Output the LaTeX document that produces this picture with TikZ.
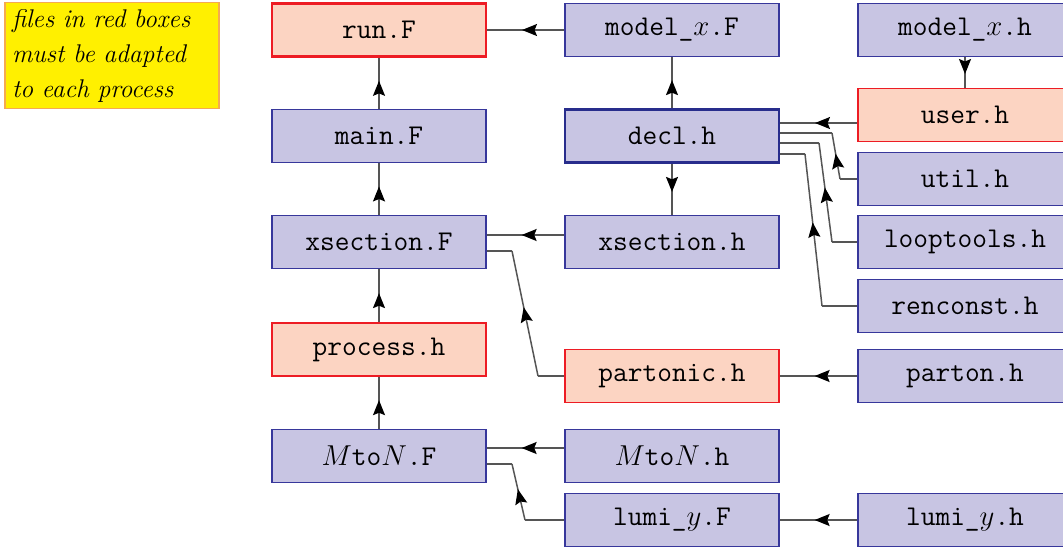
\documentclass[tikz,border=0pt]{standalone}
\usepackage{tikz}
\usetikzlibrary{arrows.meta, decorations.markings, positioning}
\definecolor{fileblue}{RGB}{200,197,227}
\definecolor{fileline}{RGB}{55,55,155}
\definecolor{declline}{RGB}{40,45,140}
\definecolor{adaptfill}{RGB}{252,212,194}
\definecolor{adaptline}{RGB}{237,28,36}
\definecolor{noteyellow}{RGB}{255,240,0}
\definecolor{noteline}{RGB}{245,170,80}
\definecolor{linkgray}{RGB}{85,85,85}
\tikzset{
x=0.5pt, y=-0.5pt, % one unit is one pixel of the sketch
srcfile/.style={draw=fileline, fill=fileblue, line width=0.6pt, minimum width=107pt, minimum height=26.5pt, inner sep=0pt, font=\fontsize{14.3}{17}\selectfont\ttfamily}, % every file box
adapted/.style={srcfile, draw=adaptline, fill=adaptfill}, % files to adapt
link/.style={linkgray, line width=0.75pt}, % connectors
midarrow/.style={postaction={decorate}, decoration={markings, mark=at position 0.55 with {\arrow[black]{Stealth[length=7.5pt,width=6pt,inset=1.2pt]}}}}, % arrow on a link
}

\begin{document}
\begin{tikzpicture}
      \useasboundingbox (0,0) rectangle (1063,548);
      % note
      \node[draw=noteline, fill=noteyellow, line width=0.6pt, minimum width=107pt, minimum height=53pt, text width=100pt, inner sep=3pt, align=left, font=\fontsize{12.8}{17.5}\selectfont\itshape] (note) at (112,55.5) {files in red boxes\\must be adapted\\to each process};

      % left column
      \node[adapted, line width=1.3pt] (run) at (379,30) {run.F};
      \node[srcfile] (main) at (379,136) {main.F};
      \node[srcfile] (xsecF) at (379,242) {xsection.F};
      \node[adapted] (process) at (379,349.5) {process.h};
      \node[srcfile] (mtonF) at (379,456) {$M$to$N$.F};

      % middle column
      \node[srcfile] (modelF) at (672,30) {model\_$x$.F};
      \node[srcfile, draw=declline, line width=1.3pt] (decl) at (672,136) {decl.h};
      \node[srcfile] (xsech) at (672,242) {xsection.h};
      \node[adapted] (partonic) at (672,376) {partonic.h};
      \node[srcfile] (mtonh) at (672,456) {$M$to$N$.h};
      \node[srcfile] (lumiF) at (672,520) {lumi\_$y$.F};

      % right column
      \node[srcfile] (modelh) at (965,30) {model\_$x$.h};
      \node[adapted] (user) at (965,115) {user.h};
      \node[srcfile] (util) at (965,179) {util.h};
      \node[srcfile] (loop) at (965,242) {looptools.h};
      \node[srcfile] (renc) at (965,306) {renconst.h};
      \node[srcfile] (parton) at (965,376) {parton.h};
      \node[srcfile] (lumih) at (965,520) {lumi\_$y$.h};

      % bends
      \coordinate (u1) at (840,179);
      \coordinate (u2) at (832,133);
      \coordinate (l1) at (832,242);
      \coordinate (l2) at (819,143);
      \coordinate (r1) at (822,306);
      \coordinate (r2) at (805,154);
      \coordinate (p1) at (538,376);
      \coordinate (p2) at (512,251);
      \coordinate (m1) at (525,520);
      \coordinate (m2) at (512,464);

      \draw[link] (main) edge[midarrow] (run)
      (xsecF) edge[midarrow] (main)
      (process) edge[midarrow] (xsecF)
      (mtonF) edge[midarrow] (process)
      (modelF) edge[midarrow] (run)
      (decl) edge[midarrow] (modelF)
      (decl) edge[midarrow] (xsech)
      (modelh) edge[midarrow] (user)
      (parton) edge[midarrow] (partonic)
      (lumih) edge[midarrow] (lumiF)
      ([yshift=-4pt]user.west) edge[midarrow] ([yshift=6.5pt]decl.east)
      ([yshift=3.5pt]xsech.west) edge[midarrow] ([yshift=3.5pt]xsecF.east)
      ([yshift=4pt]mtonh.west) edge[midarrow] ([yshift=4pt]mtonF.east);

      \draw[link] (util.west) -- (u1) edge[midarrow] (u2) (u2) -- (decl.east |- u2);
      \draw[link] (loop.west) -- (l1) edge[midarrow] (l2) (l2) -- (decl.east |- l2);
      \draw[link] (renc.west) -- (r1) edge[midarrow] (r2) (r2) -- (decl.east |- r2);
      \draw[link] (partonic.west) -- (p1) edge[midarrow] (p2) (p2) -- (xsecF.east |- p2);
      \draw[link] (lumiF.west) -- (m1) edge[midarrow] (m2) (m2) -- (mtonF.east |- m2);
    \end{tikzpicture}
\end{document}
